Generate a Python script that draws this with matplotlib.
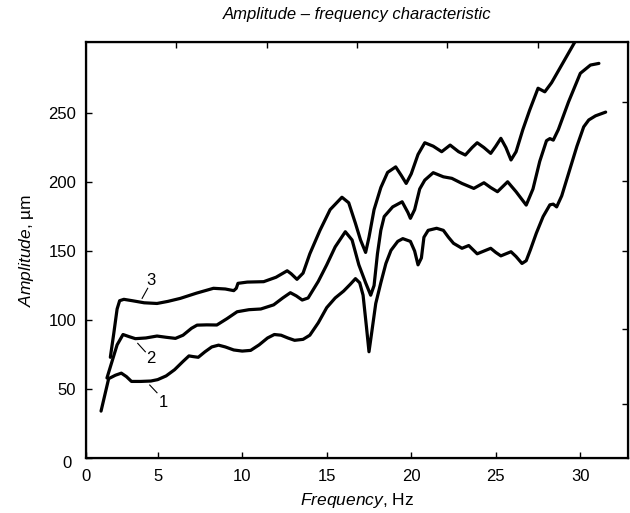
import matplotlib
matplotlib.use("Agg")
import matplotlib.pyplot as plt
from matplotlib.transforms import offset_copy

plt.rcParams['font.family'] = ['Liberation Sans', 'DejaVu Sans']
plt.rcParams['mathtext.fontset'] = 'custom'
plt.rcParams['mathtext.it'] = 'Liberation Sans:italic'
plt.rcParams['mathtext.rm'] = 'Liberation Sans'

# curve 1 (lowest)
f1 = [1.65, 2.1, 2.5, 2.85, 3.15, 3.45, 4.0, 4.6, 5.0, 5.5, 6.0, 6.5, 6.85, 7.1,
      7.4, 7.8, 8.2, 8.6, 9.0, 9.5, 10.0, 10.5, 11.0, 11.5, 11.9, 12.3, 12.7,
      13.1, 13.6, 14.0, 14.5, 15.0, 15.5, 16.0, 16.4, 16.7, 16.95, 17.15, 17.35,
      17.5, 17.65, 17.9, 18.2, 18.5, 18.8, 19.2, 19.5, 19.95, 20.2, 20.4, 20.6,
      20.75, 21.0, 21.5, 21.9, 22.2, 22.5, 23.0, 23.4, 23.9, 24.3, 24.7, 25.0,
      25.3, 25.6, 25.9, 26.2, 26.55, 26.8, 27.05, 27.4, 27.8, 28.2, 28.4, 28.6,
      28.9, 29.3, 29.8, 30.2, 30.5, 30.9, 31.5]
a1 = [34, 57.5, 60, 61.5, 59, 55.5, 55.5, 55.8, 56.8, 59.5, 64, 70, 74, 73.5,
      73, 77, 80.5, 81.8, 80.5, 78.3, 77.5, 78, 82, 87, 89.5, 89, 87,
      85.3, 86, 89, 98, 109, 116, 121, 126, 130, 127, 118, 95,
      77, 90, 112, 127, 141, 150.5, 157, 159, 157, 150, 140, 145,
      160, 165, 166.5, 165, 160, 155.6, 152, 154, 148, 150, 152, 149,
      146.5, 148, 149.5, 146, 141, 143, 151, 163, 175, 183.5, 184, 182,
      190, 206, 226, 240, 245, 248, 250.7]

# curve 2 (middle)
f2 = [2.0, 2.3, 2.6, 2.95, 3.3, 3.68, 4.3, 4.96, 5.5, 6.05, 6.5, 7.0, 7.33,
      7.9, 8.5, 9.1, 9.7, 10.4, 11.1, 11.86, 12.4, 12.85, 13.2, 13.55, 13.9,
      14.5, 15.0, 15.5, 16.1, 16.5, 16.9, 17.3, 17.6, 17.8, 18.0, 18.2, 18.4,
      18.9, 19.46, 19.8, 19.95, 20.2, 20.5, 20.8, 21.3, 21.9, 22.4, 23.0, 23.7,
      24.3, 24.7, 25.1, 25.7, 26.2, 26.8, 27.2, 27.6, 28.0, 28.2, 28.4, 28.7,
      29.3, 30.0, 30.6, 31.1]
a2 = [58, 70, 82, 89.5, 88, 86.5, 87, 88.4, 87.5, 86.7, 89, 94, 96.3,
      96.5, 96.4, 101, 106, 107.5, 108, 111, 116, 119.8, 117.5, 114.5, 116,
      128, 140, 153, 164, 158, 140, 127, 118, 125, 148, 165, 175,
      182, 185.7, 178, 173.7, 180, 195, 201.4, 206.8, 203.8, 202.7, 199, 195.4,
      199.5, 196, 193, 200.2, 193, 183.3, 195, 215, 230, 231.5, 230.4, 238,
      258, 278.8, 284.8, 286]

# curve 3 (top)
f3 = [2.2, 2.4, 2.6, 2.75, 3.0, 3.5, 4.2, 4.96, 5.6, 6.34, 7.3, 8.3, 9.0,
      9.5, 9.65, 9.75, 10.3, 11.27, 12.0, 12.66, 12.9, 13.24, 13.6, 14.0, 14.6,
      15.2, 15.9, 16.3, 16.7, 17.0, 17.3, 17.5, 17.8, 18.2, 18.6, 19.08, 19.4,
      19.7, 20.0, 20.4, 20.8, 21.3, 21.8, 22.3, 22.8, 23.2, 23.6, 23.9, 24.3,
      24.7, 25.0, 25.3, 25.6, 25.9, 26.2, 26.6, 27.0, 27.5, 27.9, 28.3, 29.0,
      29.7, 30.0]
a3 = [73, 90, 108, 114, 115, 114, 112.5, 112, 113.5, 115.7, 119.5, 123, 122.5,
      121.3, 123, 126.6, 127.5, 127.8, 131, 135.7, 133.5, 129.5, 134, 148, 165,
      180, 189, 185, 170, 158, 149, 160, 180, 196, 207, 211, 205,
      199, 206, 220, 228.5, 226, 222, 226.8, 222, 219.6, 225, 228.5, 225,
      220.8, 226, 231.7, 225, 216, 222, 238, 252, 268, 265.4, 272, 287,
      302, 308]

curve_names = ["1", "2", "3"]
label_xy = [(5.32, 40), (4.61, 72), (4.61, 129)]
leader_from = [(4.96, 47.3), (4.27, 77), (4.41, 123)]
leader_to = [(4.53, 52.9), (3.82, 83.1), (4.08, 115.7)]

xticks = [0.76, 5, 10, 15, 20, 25, 30]
xticklabels = ["0", "5", "10", "15", "20", "25", "30"]
yticks = [0, 50, 100, 150, 200, 250]
yticklabels = ["", "50", "100", "150", "200", "250"]

fig = plt.figure(figsize=(6.3, 5.13), dpi=100)
ax = fig.add_axes([0.1365, 0.1072, 0.8603, 0.8109])

for f, a in [(f1, a1), (f2, a2), (f3, a3)]:
    ax.plot(f, a, color="black", lw=2.3, solid_joinstyle="round",
            solid_capstyle="round")

for name, txy, p0, p1 in zip(curve_names, label_xy, leader_from, leader_to):
    ax.plot([p0[0], p1[0]], [p0[1], p1[1]], color="black", lw=0.8)
    ax.text(txy[0], txy[1], name, ha="center", va="center", fontsize=12)

ax.set_xlim(0.76, 32.82)
ax.set_ylim(0, 301.5)
ax.set_xticks(xticks)
ax.set_xticklabels(xticklabels)
ax.set_yticks(yticks)
ax.set_yticklabels(yticklabels)
ax.tick_params(direction="in", length=4, width=1, labelsize=12)
ax.tick_params(axis="x", pad=8)
ax.tick_params(axis="y", pad=7)
for s in ax.spines.values():
    s.set_linewidth(1.6)
# the zero of the y axis sits a little below the corner
ax.text(0, 0, "0", fontsize=12, ha="right", va="center",
        transform=offset_copy(ax.get_yaxis_transform(), fig=fig,
                              x=-10, y=-4, units="points"))

# mirror ticks on top and right
top = ax.twiny()
top.set_xlim(0, 6)
top.set_xticks([1, 2, 3, 4, 5])
top.set_xticklabels([])
top.tick_params(direction="in", length=4, width=1)
right = ax.twinx()
right.set_ylim(ax.get_ylim())
right.set_yticks([39, 93.5, 150, 200.7, 258])
right.set_yticklabels([])
right.tick_params(direction="in", length=4, width=1)

ax.set_xlabel(r"$\it{Frequency}$, Hz", fontsize=12.5, labelpad=5)
ax.set_ylabel(r"$\it{Amplitude}$, µm", fontsize=12.5, labelpad=9)
fig.text(0.567, 0.972, "Amplitude – frequency characteristic",
         ha="center", va="center", fontsize=12, style="italic")

fig.savefig("out.png", dpi=100)
